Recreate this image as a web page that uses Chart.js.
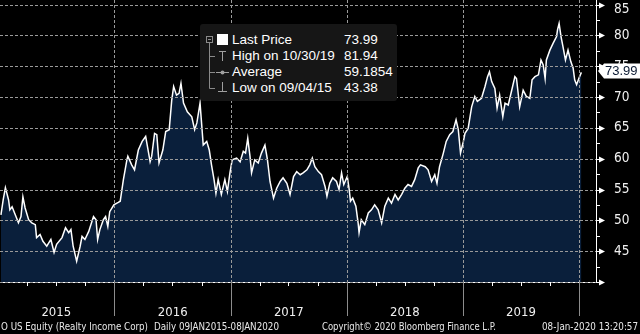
<!DOCTYPE html>
<html>
<head>
<meta charset="utf-8">
<script src="https://cdn.jsdelivr.net/npm/chart.js@4.4.1/dist/chart.umd.min.js"></script>
<style>
  body { margin: 0; background: #000; }
  #wrap { position: relative; width: 640px; height: 334px; overflow: hidden; background: #000; }
  #chart { position: absolute; left: 0; top: 0; }
  .legend { position: absolute; left: 200px; top: 24px; width: 197px; height: 77px; background: #161616;
            border-radius: 3px; color: #fff; font: 13.5px "Liberation Sans", Arial, sans-serif; }
  .legend svg { position: absolute; left: 0; top: 0; }
  .legend .row { position: absolute; left: 32px; height: 16px; line-height: 16px; white-space: nowrap; }
  .legend .val { position: absolute; left: 144px; height: 16px; line-height: 16px; }
  .foot { position: absolute; top: 321px; color: #e8e8e8; white-space: nowrap; transform-origin: 0 0;
          font: 10px "DejaVu Sans Condensed", "Liberation Sans", sans-serif; line-height: 12px; }
</style>
</head>
<body>
<div id="wrap">
  <canvas id="chart" width="640" height="334"></canvas>
  <div class="legend" id="legend">
    <svg width="40" height="77">
      <rect x="6.5" y="12.5" width="6" height="6" fill="none" stroke="#8a8a8a"/>
      <line x1="8" y1="15.5" x2="11" y2="15.5" stroke="#8a8a8a"/>
      <line x1="9.5" y1="18.5" x2="9.5" y2="64.5" stroke="#8a8a8a"/>
      <line x1="9.5" y1="32.5" x2="15" y2="32.5" stroke="#8a8a8a"/>
      <line x1="9.5" y1="48.5" x2="15" y2="48.5" stroke="#8a8a8a"/>
      <line x1="9.5" y1="64.5" x2="15" y2="64.5" stroke="#8a8a8a"/>
      <rect x="17" y="10" width="11" height="11" fill="#fff"/>
      <line x1="22.5" y1="27" x2="22.5" y2="37" stroke="#a0a0a0"/>
      <line x1="19" y1="27.5" x2="26" y2="27.5" stroke="#a0a0a0"/>
      <line x1="16" y1="48.5" x2="29" y2="48.5" stroke="#a0a0a0"/>
      <circle cx="22.5" cy="48.5" r="2" fill="#a0a0a0"/>
      <line x1="22.5" y1="58" x2="22.5" y2="68" stroke="#a0a0a0"/>
      <line x1="18" y1="67.5" x2="27" y2="67.5" stroke="#a0a0a0"/>
    </svg>
  </div>
  <div class="foot" style="left:1px" data-w="147">O US Equity (Realty Income Corp)</div>
  <div class="foot" style="left:154px" data-w="125">Daily 09JAN2015-08JAN2020</div>
  <div class="foot" style="left:322px" data-w="174">Copyright© 2020 Bloomberg Finance L.P.</div>
  <div class="foot" style="left:542px" data-w="96">08-Jan-2020 13:20:57</div>
</div>
<script>
// daily close
const dates = [
  '2015-01-09','2015-01-16','2015-01-23','2015-02-02','2015-02-06','2015-02-13','2015-02-23','2015-03-05',
  '2015-03-13','2015-03-19','2015-03-26','2015-04-06','2015-04-16','2015-04-27','2015-05-01','2015-05-12',
  '2015-05-21','2015-06-02','2015-06-15','2015-06-25','2015-07-03','2015-07-20','2015-07-31','2015-08-10',
  '2015-08-17','2015-08-24','2015-09-04','2015-09-15','2015-09-21','2015-09-30','2015-10-12','2015-10-27',
  '2015-11-04','2015-11-09','2015-11-16','2015-11-27','2015-12-04','2015-12-11','2015-12-17','2015-12-30',
  '2016-01-13','2016-01-19','2016-01-29','2016-02-09','2016-02-12','2016-02-24','2016-03-04','2016-03-16',
  '2016-03-28','2016-04-08','2016-04-22','2016-04-27','2016-05-06','2016-05-13','2016-05-20','2016-06-01',
  '2016-06-10','2016-06-21','2016-06-29','2016-07-05','2016-07-14','2016-07-22','2016-07-28','2016-08-05',
  '2016-08-17','2016-08-31','2016-09-09','2016-09-16','2016-09-26','2016-09-30','2016-10-06','2016-10-17',
  '2016-10-25','2016-11-01','2016-11-09','2016-11-15','2016-11-22','2016-12-02','2016-12-13','2016-12-21',
  '2016-12-29','2017-01-05','2017-01-19','2017-01-30','2017-02-09','2017-02-16','2017-02-23','2017-03-02',
  '2017-03-07','2017-03-17','2017-03-28','2017-04-07','2017-04-18','2017-04-26','2017-05-04','2017-05-15',
  '2017-05-25','2017-06-05','2017-06-14','2017-06-26','2017-07-06','2017-07-17','2017-07-27','2017-08-07',
  '2017-08-16','2017-08-28','2017-09-06','2017-09-14','2017-09-22','2017-10-03','2017-10-13','2017-10-24',
  '2017-10-30','2017-11-08','2017-11-17','2017-11-29','2017-12-07','2017-12-15','2017-12-22','2018-01-02',
  '2018-01-08','2018-01-12','2018-01-19','2018-01-29','2018-02-05','2018-02-08','2018-02-15','2018-02-26',
  '2018-03-09','2018-03-19','2018-03-29','2018-04-09','2018-04-20','2018-04-30','2018-05-11','2018-05-21',
  '2018-06-01','2018-06-11','2018-06-22','2018-07-02','2018-07-12','2018-07-23','2018-08-02','2018-08-13',
  '2018-08-20','2018-09-04','2018-09-13','2018-09-24','2018-10-04','2018-10-11','2018-10-19','2018-10-31',
  '2018-11-09','2018-11-20','2018-11-30','2018-12-10','2018-12-17','2018-12-24','2019-01-02','2019-01-07',
  '2019-01-17','2019-01-28','2019-02-07','2019-02-15','2019-02-28','2019-03-11','2019-03-19','2019-03-25',
  '2019-04-01','2019-04-11','2019-04-18','2019-04-26','2019-05-06','2019-05-13','2019-05-23','2019-06-03',
  '2019-06-13','2019-06-18','2019-06-28','2019-07-09','2019-07-19','2019-07-30','2019-08-06','2019-08-15',
  '2019-08-26','2019-09-03','2019-09-10','2019-09-16','2019-09-20','2019-10-01','2019-10-11','2019-10-22',
  '2019-10-25','2019-10-30','2019-11-05','2019-11-11','2019-11-19','2019-11-27','2019-12-06','2019-12-13',
  '2019-12-18','2019-12-24','2019-12-31','2020-01-08'
];
const prices = [
  50.9, 53.3, 55.3, 53.3, 51.7, 52.2, 50.9, 49.6,
  50.6, 53.8, 52.0, 50.1, 49.6, 49.3, 47.2, 47.7,
  46.6, 45.8, 46.9, 44.8, 46.1, 47.2, 48.8, 48.0,
  48.5, 45.8, 43.38, 45.8, 47.4, 46.9, 48.2, 50.6,
  50.1, 46.9, 48.5, 50.1, 50.6, 49.0, 51.4, 52.5,
  52.9, 53.1, 56.6, 59.8, 60.4, 59.0, 58.2, 61.4,
  62.8, 63.6, 59.5, 60.4, 64.1, 63.9, 59.3, 61.4,
  64.4, 64.7, 69.5, 71.7, 70.3, 70.6, 72.2, 69.0,
  67.6, 66.8, 64.7, 65.8, 69.0, 66.3, 62.2, 62.8,
  61.4, 59.0, 56.6, 54.4, 56.6, 54.2, 56.6, 54.7,
  57.7, 59.8, 60.1, 59.5, 61.2, 60.9, 63.3, 60.4,
  57.7, 59.8, 59.3, 60.9, 62.2, 59.8, 56.3, 53.6,
  55.2, 56.3, 56.9, 56.0, 54.2, 57.1, 57.9, 57.4,
  57.7, 58.2, 59.0, 60.1, 58.7, 57.9, 57.4, 55.5,
  53.9, 56.0, 56.9, 56.3, 55.0, 57.7, 55.8, 57.1,
  55.0, 53.1, 53.6, 52.3, 49.6, 48.0, 50.1, 49.3,
  51.2, 51.7, 52.5, 51.7, 49.6, 52.3, 53.6, 52.8,
  54.2, 53.3, 54.2, 55.2, 55.8, 55.5, 56.6, 58.5,
  59.0, 58.7, 58.2, 56.3, 57.4, 56.0, 58.7, 60.9,
  62.8, 63.9, 64.4, 66.3, 64.7, 60.9, 62.8, 64.1,
  64.9, 68.4, 70.1, 69.3, 69.8, 71.7, 73.3, 74.1,
  72.5, 71.4, 68.2, 70.3, 66.8, 69.0, 68.7, 71.1,
  73.3, 73.0, 68.4, 71.1, 70.1, 69.8, 72.8, 73.3,
  73.6, 76.0, 75.2, 73.0, 76.0, 77.6, 78.7, 79.8,
  80.9, 81.94, 79.8, 78.2, 76.0, 77.6, 75.7, 74.7,
  72.8, 72.0, 73.0, 73.99
];

const yearLabels = ['2015', '2016', '2017', '2018', '2019'];
const yearStarts = ['2016-01-01', '2017-01-01', '2018-01-01', '2019-01-01', '2020-01-01'];
const yTicks = [45, 50, 55, 60, 65, 70, 75, 80, 85];
const yGridValues = [40, 45, 50, 55, 60, 65, 70, 75, 80, 85];
const xRange = ['2015-01-06', '2020-02-23'];
const yRange = [40, 85.73];

const legendLabels = ['Last Price', 'High on 10/30/19', 'Average', 'Low on 09/04/15'];
const legendValues = ['73.99', '81.94', '59.1854', '43.38'];
const lastPrice = 73.99;

const dayNum = s => (Date.parse(s) - Date.UTC(2015, 0, 1)) / 864e5;
const axisFont = '"DejaVu Sans Condensed", "Liberation Sans", sans-serif';
const gridColor = '#9a9a9a';

// legend rows
const legend = document.getElementById('legend');
legendLabels.forEach((txt, i) => {
    const row = document.createElement('div');
    row.className = 'row';
    row.style.top = (8 + i * 16) + 'px';
    row.textContent = txt;
    legend.appendChild(row);
    const val = document.createElement('div');
    val.className = 'val';
    val.style.top = (8 + i * 16) + 'px';
    val.textContent = legendValues[i];
    legend.appendChild(val);
});

// squeeze footer strings to the reference widths
document.querySelectorAll('.foot').forEach(el => {
    const w = el.getBoundingClientRect().width;
    el.style.transform = 'scaleX(' + (Number(el.dataset.w) / w) + ')';
});

// dashed grid, axis ticks, year dividers, last price tag
const axisDecor = {
    id: 'axisDecor',
    afterDraw(chart) {
        const { ctx, chartArea, scales: { x, y } } = chart;
        const bottom = chartArea.bottom;
        const right = chartArea.right;
        ctx.save();

        // dashed grid, 3px on 2px off
        ctx.fillStyle = gridColor;
        yearStarts.forEach(d => {
            const px = Math.round(x.getPixelForValue(dayNum(d)));
            for (let py = Math.ceil(chartArea.top); py < bottom; py += 5) {
                ctx.fillRect(px, py, 1, 3);
            }
        });
        yGridValues.forEach(v => {
            const py = Math.round(y.getPixelForValue(v));
            for (let px = Math.ceil(chartArea.left); px < right; px += 5) {
                ctx.fillRect(px, py, 3, 1);
            }
        });

        // year dividers below the axis
        ctx.strokeStyle = '#8c8c8c';
        ctx.lineWidth = 1;
        yearStarts.forEach(d => {
            const px = Math.round(x.getPixelForValue(dayNum(d))) + 0.5;
            ctx.beginPath();
            ctx.moveTo(px, bottom);
            ctx.lineTo(px, bottom + 34);
            ctx.stroke();
        });

        // quarter ticks
        ctx.strokeStyle = '#fff';
        yearLabels.forEach(yr => {
            ['-04-01', '-07-01', '-10-01'].forEach(md => {
                const px = Math.round(x.getPixelForValue(dayNum(yr + md))) + 0.5;
                ctx.beginPath();
                ctx.moveTo(px, bottom);
                ctx.lineTo(px, bottom + 4);
                ctx.stroke();
            });
        });

        // y axis arrows at majors, short ticks at minors
        ctx.fillStyle = '#fff';
        for (let v = yRange[0]; v <= 85; v += 2.5) {
            const py = Math.round(y.getPixelForValue(v)) + 0.5;
            ctx.beginPath();
            ctx.moveTo(right, py);
            ctx.lineTo(right + 4, py);
            ctx.stroke();
            if (v % 5 === 0) {
                ctx.beginPath();
                ctx.moveTo(right + 3, py - 3);
                ctx.lineTo(right + 9, py);
                ctx.lineTo(right + 3, py + 3);
                ctx.closePath();
                ctx.fill();
            }
        }

        // last price tag
        const ty = y.getPixelForValue(lastPrice) - 1.5;
        ctx.fillStyle = '#fff';
        ctx.beginPath();
        ctx.moveTo(right + 2, ty);
        ctx.lineTo(right + 8, ty - 7.5);
        ctx.lineTo(640, ty - 7.5);
        ctx.lineTo(640, ty + 7.5);
        ctx.lineTo(right + 8, ty + 7.5);
        ctx.closePath();
        ctx.fill();
        ctx.fillStyle = '#0b1a33';
        ctx.font = '13px "Liberation Sans", Arial, sans-serif';
        ctx.textBaseline = 'middle';
        ctx.fillText(String(lastPrice), right + 9, ty + 0.5);
        ctx.restore();
    }
};

const points = dates.map((d, i) => ({ x: dayNum(d), y: prices[i] }));

new Chart(document.getElementById('chart'), {
    type: 'line',
    data: {
        datasets: [{
            data: points,
            borderColor: '#ffffff',
            borderWidth: 1.5,
            backgroundColor: '#0a1f3b',
            fill: 'start',
            pointRadius: 0,
            tension: 0
        }]
    },
    options: {
        responsive: false,
        animation: false,
        devicePixelRatio: 1,
        layout: { padding: 0 },
        plugins: { legend: { display: false }, tooltip: { enabled: false } },
        scales: {
            x: {
                type: 'linear',
                min: dayNum(xRange[0]),
                max: dayNum(xRange[1]),
                afterFit: s => { s.height = 52; s.paddingLeft = 0; s.paddingRight = 0; },
                afterBuildTicks: s => { s.ticks = yearLabels.map(yr => ({ value: dayNum(yr + '-07-02') })); },
                ticks: {
                    callback: (v, i) => yearLabels[i],
                    color: '#f0f0f0',
                    font: { family: axisFont, size: 13 },
                    padding: 15,
                    maxRotation: 0,
                    autoSkip: false
                },
                grid: { display: false },
                border: { display: true, color: '#ffffff', width: 1 }
            },
            y: {
                position: 'right',
                min: yRange[0],
                max: yRange[1],
                afterFit: s => { s.width = 44; s.paddingTop = 0; s.paddingBottom = 0; },
                afterBuildTicks: s => { s.ticks = yTicks.map(v => ({ value: v })); },
                ticks: {
                    // top label sits a little below its tick so it stays on the canvas
                    callback: v => v === 85 ? ['', String(v)] : String(v),
                    color: '#f0f0f0',
                    font: c => ({ family: axisFont, size: 13.5, lineHeight: c.tick && c.tick.value === 85 ? 0.8 : 1.2 }),
                    padding: 10
                },
                grid: { display: false },
                border: { display: true, color: '#ffffff', width: 1 }
            }
        }
    },
    plugins: [axisDecor]
});
</script>
</body>
</html>
